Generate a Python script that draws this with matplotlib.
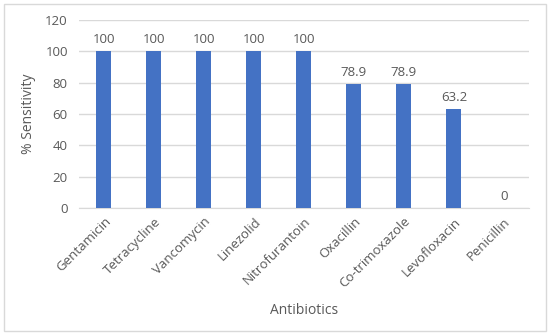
import matplotlib.pyplot as plt
from matplotlib.patches import Rectangle

antibiotics = ['Gentamicin', 'Tetracycline', 'Vancomycin', 'Linezolid',
               'Nitrofurantoin', 'Oxacillin', 'Co-trimoxazole',
               'Levofloxacin', 'Penicillin']
sensitivity = [100, 100, 100, 100, 100, 78.9, 78.9, 63.2, 0]
value_labels = ['100', '100', '100', '100', '100', '78.9', '78.9', '63.2', '0']

plt.rcParams['font.family'] = ['Open Sans', 'DejaVu Sans']
grey = '#595959'

fig = plt.figure(figsize=(5.5, 3.35), dpi=100)
ax = fig.add_axes([0.1436, 0.379, 0.818, 0.561])

x = range(len(antibiotics))
ax.bar(x, sensitivity, width=0.3, color='#4472C4', zorder=3)
for i, (v, t) in enumerate(zip(sensitivity, value_labels)):
    ax.text(i, v + 3.5, t, ha='center', va='bottom', fontsize=9.5, color=grey)

ax.set_xlim(-0.5, len(antibiotics) - 0.5)
ax.set_ylim(0, 120)
ax.set_yticks(range(0, 121, 20))
ax.grid(axis='y', color='#d9d9d9', linewidth=1, zorder=0)
for s in ['top', 'right', 'left']:
    ax.spines[s].set_visible(False)
ax.spines['bottom'].set_color('#d9d9d9')
ax.tick_params(axis='both', length=0, colors=grey, labelsize=9.5)
ax.tick_params(axis='y', pad=8)
ax.tick_params(axis='x', pad=5)
ax.set_xticks(list(x))
ax.set_xticklabels(antibiotics, rotation=45, ha='right', rotation_mode='anchor')
ax.set_ylabel('% Sensitivity', fontsize=10, color=grey, labelpad=7)
ax.set_xlabel('Antibiotics', fontsize=10, color=grey, labelpad=9)

fig.patches.append(Rectangle((0.008, 0.012), 0.984, 0.976, transform=fig.transFigure,
                             fill=False, edgecolor='#d9d9d9', linewidth=1))

fig.savefig('out.png', dpi=100)
